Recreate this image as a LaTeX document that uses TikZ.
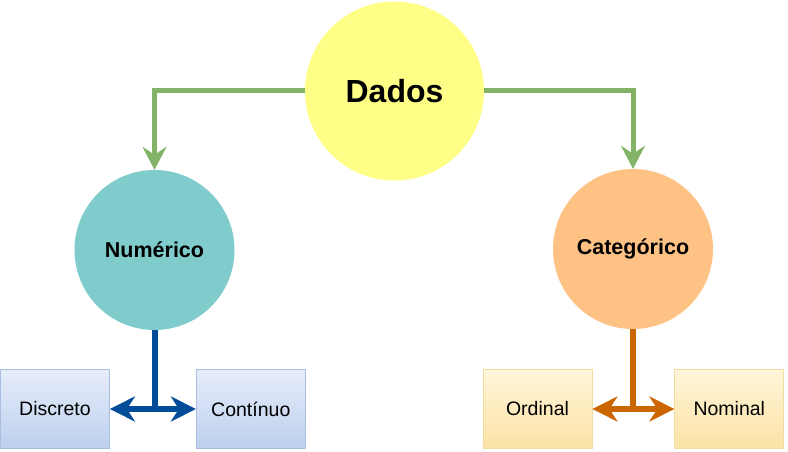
\documentclass[tikz,border=0pt]{standalone}
\usepackage{fontspec}
\setmainfont{Liberation Sans}
\usepackage{tikz}
\usetikzlibrary{arrows.meta,positioning}
\definecolor{rootYellow}{HTML}{FFFF88}
\definecolor{numTeal}{HTML}{80CBCB}
\definecolor{catOrange}{HTML}{FFC285}
\definecolor{linkGreen}{HTML}{82B366}
\definecolor{linkBlue}{HTML}{004C99}
\definecolor{linkOrange}{HTML}{CC6600}
\definecolor{numTop}{HTML}{E6EDFA}
\definecolor{numBottom}{HTML}{BDCFEE}
\definecolor{numEdge}{HTML}{A8BFE2}
\definecolor{catTop}{HTML}{FFF5D9}
\definecolor{catBottom}{HTML}{FCE3A6}
\definecolor{catEdge}{HTML}{EFDCA0}
\tikzset{
  dg/root/.style={circle, fill=rootYellow, minimum size=179pt, inner sep=0pt, font=\bfseries\fontsize{32}{36}\selectfont},
  dg/class/.style={circle, minimum size=160pt, inner sep=0pt, font=\bfseries\fontsize{21.5}{24}\selectfont},
  dg/leaf/.style={draw, line width=0.8pt, minimum width=109pt, minimum height=79pt, inner sep=0pt, font=\fontsize{19.5}{22}\selectfont},
  dg/numleaf/.style={dg/leaf, draw=numEdge, top color=numTop, bottom color=numBottom},
  dg/catleaf/.style={dg/leaf, draw=catEdge, top color=catTop, bottom color=catBottom},
  dg/tip/.style={Stealth[length=24pt, width=24pt, inset=8pt]},
  dg/main/.style={line width=5pt, draw=linkGreen, -{Stealth[length=23pt, width=24pt, inset=8pt]}},
  dg/split/.style={line width=6pt, {Stealth[length=25pt, width=25pt, inset=8pt]}-{Stealth[length=25pt, width=25pt, inset=8pt]}},
  dg/stem/.style={line width=6pt}
}

\begin{document}
\begin{tikzpicture}[x=1pt, y=-1pt, node distance=86pt]
  \useasboundingbox (0,0) rectangle (788,452);
  \node[dg/root] (dados) at (394.5,91) {Dados};
  \node[dg/class, fill=numTeal] (num) at (154.5,250) {Numérico};
  \node[dg/class, fill=catOrange] (cat) at (633,249) {Categórico};
  \node[dg/numleaf] (disc) at (55,409) {Discreto};
  \node[dg/numleaf, right=of disc] (cont) {Contínuo};
  \node[dg/catleaf] (ord) at (537.5,409) {Ordinal};
  \node[dg/catleaf, right=82pt of ord] (nom) {Nominal};
  % ligacoes
  \draw[dg/main] (dados.west) -| (num.north);
  \draw[dg/main] (dados.east) -| (cat.north);
  \draw[dg/stem, draw=linkBlue] (num.south) -- (num.south |- disc.east);
  \draw[dg/split, draw=linkBlue] (disc.east) -- (cont.west);
  \draw[dg/stem, draw=linkOrange] (cat.south) -- (cat.south |- ord.east);
  \draw[dg/split, draw=linkOrange] (ord.east) -- (nom.west);
\end{tikzpicture}
\end{document}
